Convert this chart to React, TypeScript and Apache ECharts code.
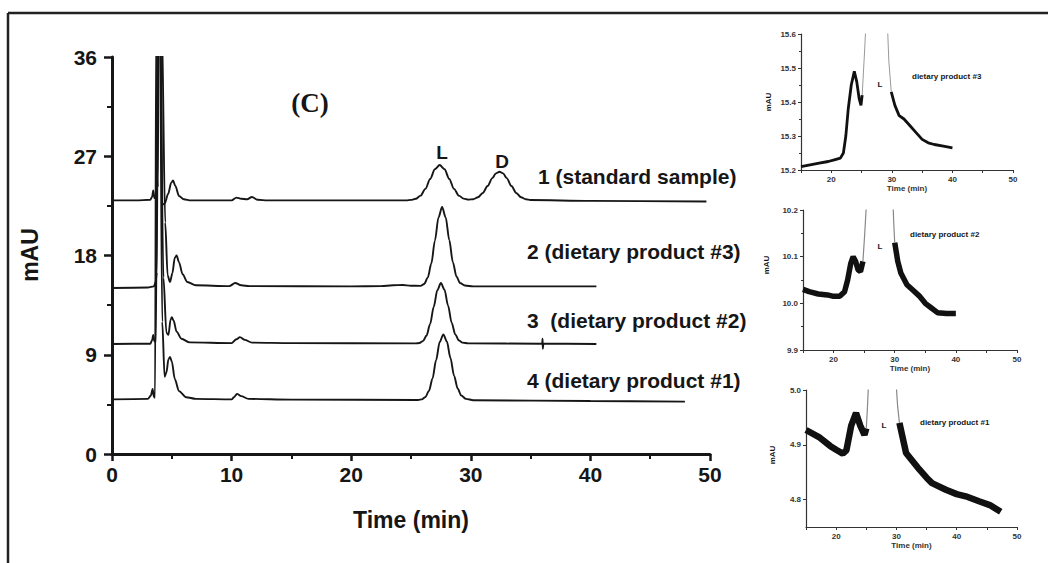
import React, { useEffect, useRef } from "react";
import * as echarts from "echarts";

// ---------- Main chromatograms (time in min, absorbance in mAU) ----------
const trace1: [number, number][] = [
  [0, 23.0], [2.0, 23.0], [3.2, 23.05], [3.35, 23.3], [3.45, 23.9], [3.55, 23.2], [3.68, 23.3], [3.76, 26.6],
  [3.83, 24.2], [3.9, 40], [4.05, 40], [4.2, 22.6], [4.4, 22.7], [4.7, 23.6], [4.95, 24.6], [5.1, 24.8],
  [5.3, 24.3], [5.6, 23.4], [6.0, 23.1], [6.6, 23.0], [10.0, 23.0], [10.4, 23.25], [10.8, 23.15], [11.3, 23.1],
  [11.7, 23.3], [12.2, 23.05], [13, 23.0], [24.6, 23.0], [25.0, 23.04], [25.4, 23.14], [25.8, 23.43],
  [26.2, 24.04], [26.6, 24.94], [27.0, 25.82], [27.4, 26.2], [27.8, 25.82], [28.2, 24.94], [28.6, 24.04],
  [29.0, 23.43], [29.4, 23.16], [29.8, 23.07], [30.2, 23.1], [30.6, 23.28], [31.0, 23.67], [31.4, 24.3],
  [31.8, 25.02], [32.1, 25.45], [32.4, 25.6], [32.7, 25.45], [33.0, 25.02], [33.4, 24.3], [33.8, 23.67],
  [34.2, 23.28], [34.6, 23.1], [35.0, 23.03], [40, 22.95], [49.7, 22.9],
];
const trace2: [number, number][] = [
  [0, 15.05], [3.0, 15.1], [3.5, 15.2], [3.65, 15.6], [3.75, 16.5], [3.85, 40], [4.15, 40], [4.45, 21],
  [4.65, 16.2], [4.85, 15.6], [5.05, 16.4], [5.25, 17.8], [5.4, 18.0], [5.6, 17.4], [5.9, 16.3], [6.3, 15.6],
  [7.0, 15.3], [9.8, 15.22], [10.3, 15.5], [10.8, 15.3], [11.5, 15.22], [20, 15.2], [22.5, 15.22],
  [23.5, 15.3], [24.3, 15.32], [25.0, 15.26], [25.8, 15.25], [26.1, 15.42], [26.4, 15.99], [26.7, 17.27],
  [27.0, 19.35], [27.3, 21.46], [27.6, 22.4], [27.9, 21.46], [28.2, 19.4], [28.5, 17.4], [28.8, 16.1],
  [29.1, 15.5], [29.5, 15.28], [30.2, 15.2], [40.5, 15.2],
];
const trace3: [number, number][] = [
  [0, 9.97], [3.2, 10.0], [3.35, 10.3], [3.45, 10.8], [3.55, 10.2], [3.68, 10.2], [3.8, 40], [4.0, 40],
  [4.3, 16], [4.55, 11.0], [4.72, 10.8], [4.9, 12.2], [5.0, 12.4], [5.15, 12.1], [5.4, 11.1], [5.8, 10.45],
  [6.5, 10.12], [10.0, 10.05], [10.4, 10.4], [10.7, 10.6], [11.1, 10.35], [11.7, 10.1], [15, 10.05],
  [25.4, 10.03], [25.7, 10.06], [26.0, 10.24], [26.3, 10.74], [26.6, 11.79], [26.9, 13.34], [27.2, 14.85],
  [27.5, 15.5], [27.8, 14.9], [28.1, 13.45], [28.4, 11.9], [28.7, 10.85], [29.0, 10.3], [29.3, 10.1],
  [29.8, 10.03], [35.9, 10.0], [35.97, 10.0], [36.0, 10.45], [36.02, 9.55], [36.07, 10.0], [40.5, 9.98],
];
const trace4: [number, number][] = [
  [0, 4.95], [3.0, 5.0], [3.25, 5.3], [3.4, 5.9], [3.5, 5.2], [3.6, 5.1], [3.7, 40], [4.0, 40], [4.2, 12],
  [4.4, 7.0], [4.55, 7.4], [4.72, 8.6], [4.85, 8.8], [5.0, 8.4], [5.25, 6.8], [5.6, 5.7], [6.2, 5.15],
  [7, 5.0], [10, 4.95], [10.2, 5.15], [10.45, 5.45], [10.8, 5.25], [11.4, 5.0], [15, 4.93], [25.6, 4.9],
  [25.9, 4.95], [26.2, 5.16], [26.5, 5.72], [26.8, 6.85], [27.1, 8.53], [27.4, 10.15], [27.7, 10.85],
  [28.0, 10.2], [28.3, 8.7], [28.6, 7.1], [28.9, 5.95], [29.2, 5.3], [29.6, 5.0], [30.2, 4.88], [40, 4.8],
  [47.9, 4.75],
];

const mainXTicks = [0, 10, 20, 30, 40, 50];
const mainYTicks = [0, 9, 18, 27, 36];
const traceLabels = ["1 (standard sample)", "2 (dietary product #3)", "3  (dietary product #2)", "4 (dietary product #1)"];

// ---------- Insets (zoomed baselines) ----------
const inset3Noise: ([number, number] | null)[] = [
  [15, 15.21], [16.5, 15.215], [18, 15.22], [19.5, 15.225], [20.5, 15.23], [21.5, 15.235], [22.0, 15.25],
  [22.4, 15.3], [22.8, 15.38], [23.3, 15.45], [23.8, 15.49], [24.2, 15.46], [24.6, 15.41], [24.9, 15.39],
  [25.1, 15.42], null, [29.9, 15.43], [30.5, 15.39], [31.2, 15.36], [32, 15.35], [33, 15.33], [34, 15.31],
  [35, 15.29], [36, 15.28], [37, 15.275], [38.5, 15.27], [40, 15.265],
];
const inset3Steep: ([number, number] | null)[] = [
  [25.1, 15.42], [25.5, 15.55], [25.8, 15.66], null, [29.2, 15.66], [29.5, 15.52], [29.9, 15.43],
];
const inset2Noise: ([number, number] | null)[] = [
  [15, 10.03], [16, 10.025], [17.5, 10.02], [19, 10.018], [20, 10.015], [21, 10.015], [21.8, 10.025],
  [22.3, 10.05], [22.8, 10.085], [23.2, 10.1], [23.6, 10.09], [24.0, 10.072], [24.4, 10.068], [24.8, 10.09],
  null, [30.0, 10.13], [30.5, 10.09], [31, 10.065], [32, 10.04], [33, 10.028], [34, 10.016], [35, 10.0],
  [36, 9.99], [37, 9.98], [38.5, 9.978], [40, 9.978],
];
const inset2Steep: ([number, number] | null)[] = [
  [24.8, 10.09], [25.1, 10.15], [25.4, 10.22], null, [29.7, 10.22], [29.85, 10.17], [30.0, 10.13],
];
const inset1Noise: ([number, number] | null)[] = [
  [15, 4.927], [17.3, 4.913], [19, 4.898], [20, 4.891], [21.1, 4.884], [21.7, 4.89], [22.5, 4.935],
  [23.3, 4.958], [24, 4.935], [24.7, 4.918], [25.0, 4.93], null, [30.5, 4.94], [31, 4.915], [31.6, 4.885],
  [32.7, 4.87], [33.8, 4.855], [35, 4.84], [35.9, 4.83], [38.2, 4.818], [40, 4.81], [41.5, 4.806],
  [43.7, 4.797], [45.5, 4.79], [47.3, 4.778],
];
const inset1Steep: ([number, number] | null)[] = [
  [25.0, 4.93], [25.2, 4.97], [25.4, 5.02], null, [29.9, 5.02], [30.2, 4.97], [30.5, 4.94],
];
const insetXLabels = [20, 30, 40, 50];
const insetXTicks = [15, 20, 25, 30, 35, 40, 45, 50];
const inset1YLabels = [4.8, 4.9, 5.0];
const insetTitles = ["dietary product #3", "dietary product #2", "dietary product #1"];

const SANS = 'Arial, "Liberation Sans", Helvetica, sans-serif';
const INK = "#161616";

export default function App() {
  const ref = useRef<HTMLDivElement>(null);
  useEffect(() => {
    if (!ref.current) return;
    const chart = echarts.init(ref.current, undefined, { renderer: "svg" });

    const mainLine = (data: any) => ({
      type: "line",
      xAxisIndex: 0,
      yAxisIndex: 0,
      data,
      showSymbol: false,
      smooth: 0.3,
      smoothMonotone: "x",
      silent: true,
      lineStyle: { color: INK, width: 1.9 },
    });
    const insetLine = (idx: number, data: any, color: string, width: number) => ({
      type: "line",
      xAxisIndex: idx,
      yAxisIndex: idx,
      data,
      showSymbol: false,
      connectNulls: false,
      silent: true,
      lineStyle: { color, width },
    });

    const insetX = (idx: number) => ({
      type: "value",
      gridIndex: idx,
      min: 15,
      max: 50,
      name: "Time (min)",
      nameLocation: "middle",
      nameGap: 14,
      nameTextStyle: { fontFamily: SANS, fontWeight: "bold", fontSize: 8, color: "#333" },
      axisLine: { lineStyle: { color: "#333", width: 1.2 } },
      axisTick: { length: 3, customValues: insetXTicks, lineStyle: { color: "#333" } },
      axisLabel: { customValues: insetXLabels, fontFamily: SANS, fontWeight: "bold", fontSize: 8, color: "#333", margin: 5 },
      splitLine: { show: false },
    });
    const insetYBase = {
      type: "value",
      axisLine: { show: true, lineStyle: { color: "#333", width: 1.2 } },
      axisTick: { show: true, length: 3, lineStyle: { color: "#333" } },
      minorTick: { show: true, splitNumber: 2, length: 2, lineStyle: { color: "#333" } },
      axisLabel: { fontFamily: SANS, fontWeight: "bold", fontSize: 8, color: "#333", margin: 5, formatter: (v: number) => v.toFixed(1) },
      splitLine: { show: false },
    };

    const txt = (text: string, x: number, y: number, font: string, align = "left", rotation = 0) => ({
      type: "text",
      x,
      y,
      rotation,
      silent: true,
      style: { text, font, fill: INK, textAlign: align, align, textVerticalAlign: "middle", verticalAlign: "middle" },
    });

    chart.setOption({
      animation: false,
      backgroundColor: "#ffffff",
      grid: [
        { left: 112, top: 57, width: 598, height: 397 },
        { left: 801, top: 34, width: 212, height: 136 },
        { left: 803, top: 210, width: 214, height: 140 },
        { left: 806, top: 390, width: 211, height: 137 },
      ],
      xAxis: [
        {
          type: "value",
          gridIndex: 0,
          min: mainXTicks[0],
          max: mainXTicks[mainXTicks.length - 1],
          interval: 10,
          name: "Time (min)",
          nameLocation: "middle",
          nameGap: 54,
          nameTextStyle: { fontFamily: SANS, fontWeight: "bold", fontSize: 23, color: INK },
          axisLine: { lineStyle: { color: INK, width: 3 } },
          axisTick: { length: 7, lineStyle: { color: INK, width: 2.5 } },
          minorTick: { show: true, splitNumber: 2, length: 5, lineStyle: { color: INK, width: 2 } },
          axisLabel: { fontFamily: SANS, fontWeight: "bold", fontSize: 21, color: INK, margin: 10 },
          splitLine: { show: false },
        },
        insetX(1),
        insetX(2),
        insetX(3),
      ],
      yAxis: [
        {
          type: "value",
          gridIndex: 0,
          min: mainYTicks[0],
          max: mainYTicks[mainYTicks.length - 1],
          interval: 9,
          axisLine: { show: true, lineStyle: { color: INK, width: 3 } },
          axisTick: { show: true, length: 8, lineStyle: { color: INK, width: 2.5 } },
          minorTick: { show: true, splitNumber: 2, length: 5, lineStyle: { color: INK, width: 2 } },
          axisLabel: { fontFamily: SANS, fontWeight: "bold", fontSize: 21, color: INK, margin: 15 },
          splitLine: { show: false },
        },
        { ...insetYBase, gridIndex: 1, min: 15.2, max: 15.6, interval: 0.1 },
        { ...insetYBase, gridIndex: 2, min: 9.9, max: 10.2, interval: 0.1 },
        {
          ...insetYBase,
          gridIndex: 3,
          min: 4.75,
          max: 5.0,
          minorTick: { show: false },
          axisTick: { show: true, length: 3, customValues: inset1YLabels, lineStyle: { color: "#333" } },
          axisLabel: { ...insetYBase.axisLabel, customValues: inset1YLabels },
        },
      ],
      series: [
        mainLine(trace1),
        mainLine(trace2),
        mainLine(trace3),
        mainLine(trace4),
        insetLine(1, inset3Noise, "#111", 2.8),
        insetLine(1, inset3Steep, "#999", 1),
        insetLine(2, inset2Noise, "#111", 5.5),
        insetLine(2, inset2Steep, "#888", 1.2),
        insetLine(3, inset1Noise, "#111", 6.5),
        insetLine(3, inset1Steep, "#888", 1.2),
      ],
      graphic: [
        { type: "line", silent: true, shape: { x1: 8, y1: 13, x2: 1048, y2: 13 }, style: { stroke: "#222", lineWidth: 2.5 } },
        { type: "line", silent: true, shape: { x1: 8, y1: 13, x2: 8, y2: 563 }, style: { stroke: "#222", lineWidth: 2.5 } },
        txt("mAU", 30, 255, `bold 23px ${SANS}`, "center", Math.PI / 2),
        txt("(C)", 310, 103, 'bold 27px "Liberation Serif", "Times New Roman", serif', "center"),
        txt("L", 442, 152, `bold 19px ${SANS}`, "center"),
        txt("D", 502, 161, `bold 19px ${SANS}`, "center"),
        txt(traceLabels[0], 538, 176, `bold 21px ${SANS}`),
        txt(traceLabels[1], 527, 251, `bold 21px ${SANS}`),
        txt(traceLabels[2], 527, 320, `bold 21px ${SANS}`),
        txt(traceLabels[3], 527, 380, `bold 21px ${SANS}`),
        txt(insetTitles[0], 912, 76, `bold 8px ${SANS}`),
        txt("L", 880, 84, `bold 8px ${SANS}`, "center"),
        txt(insetTitles[1], 910, 234, `bold 8px ${SANS}`),
        txt("L", 880, 246, `bold 8px ${SANS}`, "center"),
        txt(insetTitles[2], 920, 422, `bold 8px ${SANS}`),
        txt("L", 884, 425, `bold 8px ${SANS}`, "center"),
        txt("mAU", 768, 102, `bold 8px ${SANS}`, "center", Math.PI / 2),
        txt("mAU", 766, 265, `bold 8px ${SANS}`, "center", Math.PI / 2),
        txt("mAU", 772, 455, `bold 8px ${SANS}`, "center", Math.PI / 2),
      ],
    });
    return () => chart.dispose();
  }, []);

  return (
    <div
      ref={ref}
      style={{ position: "absolute", left: 0, top: 0, width: 1048, height: 563, background: "#fff" }}
    />
  );
}
